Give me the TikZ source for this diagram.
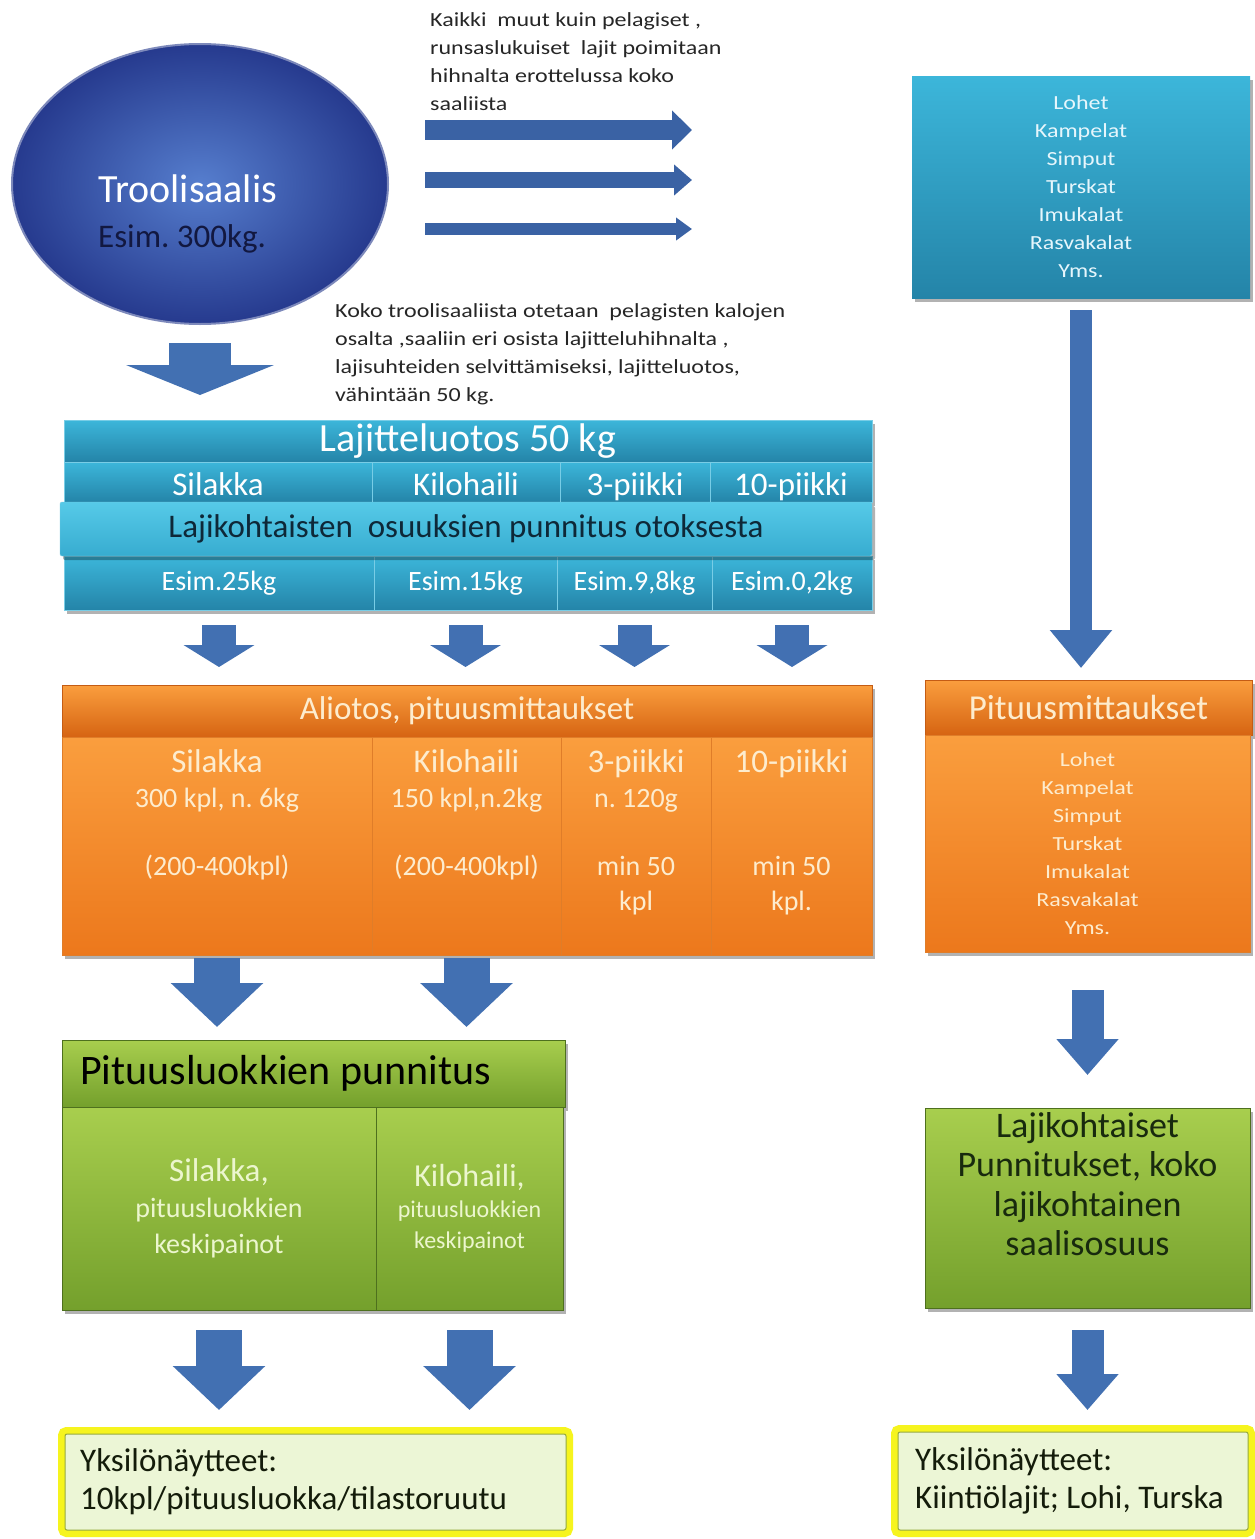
\documentclass[tikz,border=0pt]{standalone}
\usepackage{fontspec}
\setmainfont{Carlito}
\newfontfamily\wideface[FakeStretch=1.2]{Carlito}
\usetikzlibrary{positioning,shapes.geometric,arrows.meta,shadows}

\newcommand{\fsz}[2]{\fontsize{#1}{#2}\selectfont}

% colours
\definecolor{arrowblue}{RGB}{66,112,178}
\definecolor{beltblue}{RGB}{58,98,164}
\definecolor{navyblue}{RGB}{18,24,64}
\definecolor{ellin}{RGB}{86,126,206}
\definecolor{ellout}{RGB}{38,58,142}
\definecolor{tealtop}{RGB}{60,182,218}
\definecolor{tealbot}{RGB}{36,132,168}
\definecolor{teallight}{RGB}{86,202,232}
\definecolor{tealline}{RGB}{120,205,230}
\definecolor{tealtext}{RGB}{230,246,252}
\definecolor{bandtext}{RGB}{14,40,56}
\definecolor{orangetop}{RGB}{250,158,62}
\definecolor{orangebot}{RGB}{236,120,28}
\definecolor{orangedark}{RGB}{214,100,18}
\definecolor{orangeline}{RGB}{196,92,20}
\definecolor{cream}{RGB}{253,236,206}
\definecolor{greentop}{RGB}{168,206,78}
\definecolor{greenbot}{RGB}{116,160,44}
\definecolor{greenline}{RGB}{78,112,30}
\definecolor{palegreen}{RGB}{236,246,206}
\definecolor{darkgreen}{RGB}{24,42,14}
\definecolor{glowyellow}{RGB}{246,244,30}
\definecolor{notegreen}{RGB}{236,246,214}
\definecolor{noteline}{RGB}{150,170,60}
\definecolor{notetext}{RGB}{20,28,10}
\definecolor{textgrey}{RGB}{38,38,38}

\tikzset{
  cell/.style={anchor=north west, inner sep=0pt, outer sep=0pt},
  boxshadow/.style={drop shadow={shadow xshift=3pt, shadow yshift=-4pt, opacity=.3, fill=black}},
  tealcell/.style={cell, top color=tealtop, bottom color=tealbot, draw=tealline, line width=0.8pt, text=white, boxshadow},
  orangehead/.style={cell, top color=orangetop, bottom color=orangedark, draw=orangeline, line width=1pt, text=cream, boxshadow},
  orangecell/.style={cell, top color=orangetop, bottom color=orangebot, draw=orangeline!50!orangetop, line width=0.8pt, text=cream, boxshadow},
  greenhead/.style={cell, top color=greentop, bottom color=greenbot, draw=greenline, line width=1pt, boxshadow},
  greencell/.style={cell, top color=greentop, bottom color=greenbot, draw=greenline, line width=0.8pt, text=palegreen, align=center, boxshadow},
  celltext/.style={anchor=north, inner sep=0pt, align=center},
  note/.style={anchor=west, inner sep=0pt, align=left, text=textgrey, font=\wideface\fsz{20}{28}},
  yellownote/.style={cell, fill=notegreen, draw=noteline, line width=1pt, rounded corners=2pt, preaction={draw=glowyellow, line width=14pt, rounded corners=4pt}},
  fatarrow/.style={draw=arrowblue, line width=46pt, -{Triangle[width=90pt,length=44pt]}},
  midarrow/.style={draw=arrowblue, line width=32pt, -{Triangle[width=60pt,length=36pt]}},
  smallarrow/.style={draw=arrowblue, line width=34pt, -{Triangle[width=70pt,length=22pt]}},
}

\begin{document}
\frenchspacing
\begin{tikzpicture}[x=1pt,y=-1pt]
\fill[white] (0,0) rectangle (1255,1539);
\useasboundingbox (0,0) rectangle (1255,1539);

% saalis
\node[ellipse, inner sep=0pt, minimum width=376pt, minimum height=280pt, inner color=ellin, outer color=ellout, draw=ellout!60!white, line width=2pt] (troolis) at (200,184) {};
\node[anchor=west, inner sep=0pt, align=left, font=\fsz{40}{45}] (troolisteksti) at (98,214) {\textcolor{white}{Troolisaalis}\\{\fsz{33}{45}\color{navyblue}Esim. 300kg.}};

% muut lajit hihnalta
\node[note] (erottelu) at (430,62) {Kaikki\ \ muut kuin pelagiset ,\\runsaslukuiset\ \ lajit poimitaan\\hihnalta erottelussa koko\\saaliista};
\coordinate (hihna1) at (425,130);
\coordinate (hihna1loppu) at (692,130);
\coordinate (hihna2) at (425,180);
\coordinate (hihna2loppu) at (692,180);
\coordinate (hihna3) at (425,229);
\coordinate (hihna3loppu) at (692,229);
\draw[draw=beltblue, line width=20pt, -{Triangle[width=38pt,length=20pt]}] (hihna1) -- (hihna1loppu);
\draw[draw=beltblue, line width=16pt, -{Triangle[width=30pt,length=18pt]}] (hihna2) -- (hihna2loppu);
\draw[draw=beltblue, line width=12pt, -{Triangle[width=22pt,length=16pt]}] (hihna3) -- (hihna3loppu);

\node[cell, minimum width=338pt, minimum height=222pt, top color=tealtop, bottom color=tealbot, boxshadow, align=center, text=tealtext, font=\wideface\fsz{20}{28}] (muutlajit) at (912,76) {Lohet\\Kampelat\\Simput\\Turskat\\Imukalat\\Rasvakalat\\Yms.};

% lajitteluotos
\node[note] (otanta) at (335,354) {Koko troolisaaliista otetaan\ \ pelagisten kalojen\\osalta ,saaliin eri osista lajitteluhihnalta ,\\lajisuhteiden selvittämiseksi, lajitteluotos,\\vähintään 50 kg.};

\node[tealcell, minimum width=808pt, minimum height=42pt, font=\fsz{40}{44}] (lajitteluotos) at (64,420) {Lajitteluotos 50 kg};
\node[tealcell, minimum width=308pt, minimum height=40pt, text height=28pt, text depth=2pt, font=\fsz{33}{36}] (lsilakka) at (64,462) {Silakka};
\node[tealcell, minimum width=188pt, minimum height=40pt, text height=28pt, text depth=2pt, font=\fsz{33}{36}] (lkilohaili) at (372,462) {Kilohaili};
\node[tealcell, minimum width=150pt, minimum height=40pt, text height=28pt, text depth=2pt, font=\fsz{33}{36}] (lkolmi) at (560,462) {3-piikki};
\node[tealcell, minimum width=162pt, minimum height=40pt, text height=28pt, text depth=2pt, font=\fsz{33}{36}] (lkymmen) at (710,462) {10-piikki};
\node[tealcell, minimum width=310pt, minimum height=54pt, text height=21pt, text depth=6pt, font=\fsz{28}{32}] (esilakka) at (64,556) {Esim.25kg};
\node[tealcell, minimum width=183pt, minimum height=54pt, text height=21pt, text depth=6pt, font=\fsz{28}{32}] (ekilohaili) at (374,556) {Esim.15kg};
\node[tealcell, minimum width=155pt, minimum height=54pt, text height=21pt, text depth=6pt, font=\fsz{28}{32}] (ekolmi) at (557,556) {Esim.9,8kg};
\node[tealcell, minimum width=160pt, minimum height=54pt, text height=21pt, text depth=6pt, font=\fsz{28}{32}] (ekymmen) at (712,556) {Esim.0,2kg};
\node[cell, minimum width=812pt, minimum height=54pt, top color=teallight, bottom color=tealtop!80!tealbot, draw=tealline, rounded corners=2pt, boxshadow, text=bandtext, font=\fsz{33}{36}] (punnitus) at (60,502) {Lajikohtaisten\ \ osuuksien punnitus otoksesta};

% aliotos
\node[orangehead, minimum width=810pt, minimum height=52pt, font=\fsz{33}{36}] (aliotos) at (62,685) {Aliotos, pituusmittaukset};
\node[orangecell, minimum width=310pt, minimum height=218pt] (osilakka) at (62,737) {};
\node[orangecell, minimum width=189pt, minimum height=218pt] (okilohaili) at (372,737) {};
\node[orangecell, minimum width=150pt, minimum height=218pt] (okolmi) at (561,737) {};
\node[orangecell, minimum width=161pt, minimum height=218pt] (okymmen) at (711,737) {};
\node[celltext, text=cream, font=\fsz{28}{35}, below=12pt of osilakka.north] (osilakkateksti) {{\fsz{33}{35}Silakka}\\300 kpl, n. 6kg\\[33pt](200-400kpl)};
\node[celltext, text=cream, font=\fsz{28}{35}, below=12pt of okilohaili.north] (okilohailiteksti) {{\fsz{33}{35}Kilohaili}\\150 kpl,n.2kg\\[33pt](200-400kpl)};
\node[celltext, text=cream, font=\fsz{28}{35}, below=12pt of okolmi.north] (okolmiteksti) {{\fsz{33}{35}3-piikki}\\n. 120g\\[33pt]min 50\\kpl};
\node[celltext, text=cream, font=\fsz{28}{35}, below=12pt of okymmen.north] (okymmenteksti) {{\fsz{33}{35}10-piikki}\\[68pt]min 50\\kpl.};

\node[orangehead, minimum width=327pt, minimum height=55pt, font=\fsz{35}{38}] (pitmuut) at (925,680) {Pituusmittaukset};
\node[orangecell, minimum width=325pt, minimum height=217pt, align=center, font=\wideface\fsz{20}{28}] (pitlista) at (925,735) {Lohet\\Kampelat\\Simput\\Turskat\\Imukalat\\Rasvakalat\\Yms.};

% punnitus
\node[greenhead, minimum width=503pt, minimum height=67pt] (pituusluokat) at (62,1040) {};
\node[inner sep=0pt, font=\fsz{42}{46}, right=18pt of pituusluokat.west] (pituusluokatteksti) {Pituusluokkien punnitus};
\node[greencell, minimum width=314pt, minimum height=203pt, font=\fsz{28}{36}] (gsilakka) at (62,1107) {{\fsz{33}{36}Silakka,}\\pituusluokkien\\keskipainot};
\node[greencell, minimum width=187pt, minimum height=203pt, font=\fsz{24}{31}] (gkilohaili) at (376,1107) {{\fsz{32}{31}Kilohaili,}\\pituusluokkien\\keskipainot};

\node[greenhead, minimum width=325pt, minimum height=200pt] (muutpunnitus) at (925,1108) {};
\node[celltext, text=darkgreen, font=\fsz{36}{39.5}, below=4pt of muutpunnitus.north] (muutpunnitusteksti) {Lajikohtaiset\\Punnitukset, koko\\lajikohtainen\\saalisosuus};

% yksilonaytteet
\node[yellownote, minimum width=501pt, minimum height=96pt] (yksilot) at (65,1434) {};
\node[inner sep=0pt, align=left, font=\fsz{33}{38}, text=notetext, right=15pt of yksilot.west] (yksilotteksti) {Yksilönäytteet:\\10kpl/pituusluokka/tilastoruutu};
\node[yellownote, minimum width=350pt, minimum height=98pt] (kiintiot) at (898,1432) {};
\node[inner sep=0pt, align=left, font=\fsz{33}{38}, text=notetext, right=17pt of kiintiot.west] (kiintiotteksti) {Yksilönäytteet:\\Kiintiölajit; Lohi, Turska};

% nuolet
\draw[draw=arrowblue, line width=62pt, -{Triangle[width=147pt,length=30pt]}, shorten <=18pt, shorten >=25pt] (troolis.south) -- (troolis.south |- lajitteluotos.north);
\draw[smallarrow, shorten <=15pt, shorten >=18pt] (esilakka.south) -- (esilakka.south |- aliotos.north);
\draw[smallarrow, shorten <=15pt, shorten >=18pt] (ekilohaili.south) -- (ekilohaili.south |- aliotos.north);
\draw[smallarrow, shorten <=15pt, shorten >=18pt] (ekolmi.south) -- (ekolmi.south |- aliotos.north);
\draw[smallarrow, shorten <=15pt, shorten >=18pt] (ekymmen.south) -- (ekymmen.south |- aliotos.north);
\draw[draw=arrowblue, line width=22pt, -{Triangle[width=60pt,length=38pt]}, shorten <=12pt, shorten >=12pt] (muutlajit.south) -- (muutlajit.south |- pitmuut.north);
\draw[fatarrow, shorten <=3pt, shorten >=13pt] (osilakka.south) -- (osilakka.south |- pituusluokat.north);
\draw[fatarrow, shorten <=3pt, shorten >=13pt] (okilohaili.south) -- (okilohaili.south |- pituusluokat.north);
\draw[midarrow, shorten <=38pt, shorten >=33pt] (pitlista.south) -- (pitlista.south |- muutpunnitus.north);
\draw[fatarrow, shorten <=20pt, shorten >=24pt] (gsilakka.south) -- (gsilakka.south |- yksilot.north);
\draw[fatarrow, shorten <=20pt, shorten >=24pt] (gkilohaili.south) -- (gkilohaili.south |- yksilot.north);
\draw[midarrow, shorten <=22pt, shorten >=22pt] (muutpunnitus.south) -- (muutpunnitus.south |- kiintiot.north);
\end{tikzpicture}
\end{document}
